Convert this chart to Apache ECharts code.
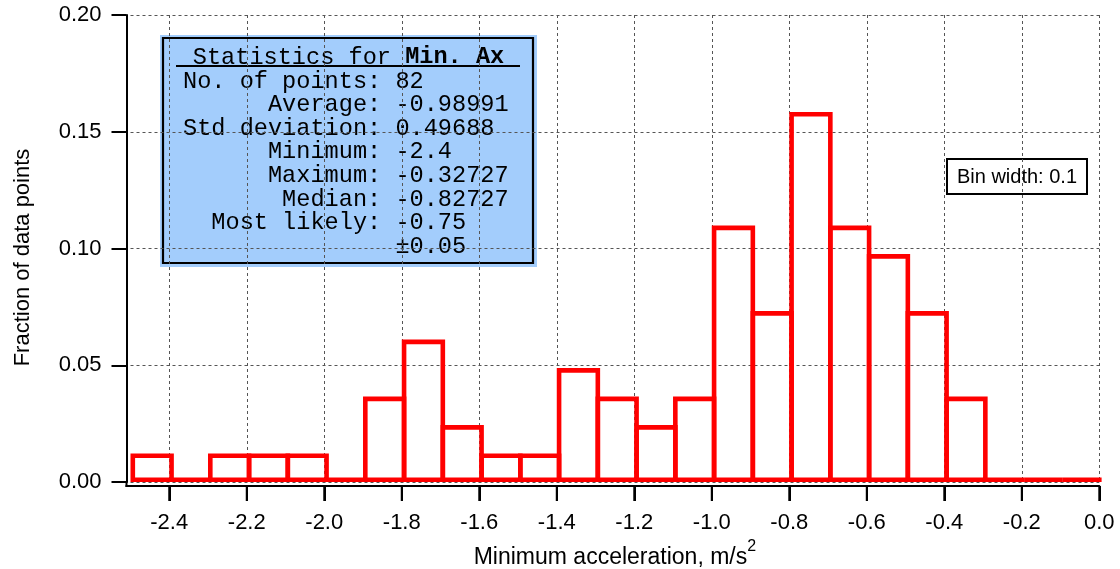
<!DOCTYPE html>
<html>
<head>
<meta charset="utf-8">
<script src="https://cdn.jsdelivr.net/npm/echarts@6/dist/echarts.min.js"></script>
<style>
html,body{margin:0;padding:0;background:#fff;}
#chart{width:1120px;height:569px;}
</style>
</head>
<body>
<div id="chart"></div>
<script>
// ---- data ----
const binWidth = 0.1;
const binLeft = [-2.5,-2.4,-2.3,-2.2,-2.1,-2.0,-1.9,-1.8,-1.7,-1.6,-1.5,-1.4,-1.3,-1.2,-1.1,-1.0,-0.9,-0.8,-0.7,-0.6,-0.5,-0.4,-0.3,-0.2,-0.1];
const fraction = [0.0122,0,0.0122,0.0122,0.0122,0,0.0366,0.0610,0.0244,0.0122,0.0122,0.0488,0.0366,0.0244,0.0366,0.1098,0.0732,0.1585,0.1098,0.0976,0.0732,0.0366,0,0,0];
const xTicks = [-2.4,-2.2,-2.0,-1.8,-1.6,-1.4,-1.2,-1.0,-0.8,-0.6,-0.4,-0.2,0.0];
const statsTitle = 'Statistics for ';
const statsTitleBold = 'Min. Ax';
const statLabels = ['No. of points:','Average:','Std deviation:','Minimum:','Maximum:','Median:','Most likely:',''];
const statValues = ['82','-0.98991','0.49688','-2.4','-0.32727','-0.82727','-0.75','\u00b10.05'];
const binNote = 'Bin width: 0.1';
const xTitle = 'Minimum acceleration, m/s';
const yTitle = 'Fraction of data points';

const SANS = '"Liberation Sans", Arial, Helvetica, sans-serif';
const MONO = '"Liberation Mono", "Courier New", monospace';
const LW = 4.6;
const AXIS_OFFSET = 4;
const TICK_LEN = 15;

const data = binLeft.map((b, i) => [b, +(b + binWidth).toFixed(2), fraction[i]]);
const tickData = xTicks.map(v => [v, 0]);
const statLines = statLabels.map((l, i) => (l.padStart(14, ' ') + ' ' + statValues[i]));

const chart = echarts.init(document.getElementById('chart'), null, {renderer: 'canvas'});
const gridLine = {show: true, lineStyle: {color: '#555', width: 1, type: [3, 3]}};

chart.setOption({
  animation: false,
  backgroundColor: '#fff',
  grid: {left: 130.5, right: 20.7, top: 15, bottom: 87, containLabel: false, outerBoundsMode: 'none'},
  xAxis: {
    type: 'value', min: -2.5, max: 0, offset: AXIS_OFFSET, position: 'bottom',
    axisLine: {show: true, onZero: false, lineStyle: {color: '#000', width: 2}},
    axisTick: {show: true, inside: false, length: TICK_LEN, customValues: xTicks, lineStyle: {color: '#000', width: 2}},
    axisLabel: {customValues: xTicks, margin: 26, fontSize: 22, fontFamily: SANS, color: '#000',
      formatter: v => Number(v).toFixed(1)},
    splitLine: gridLine,
    name: xTitle + '{sup|2}', nameLocation: 'middle', nameGap: 36,
    nameTextStyle: {fontSize: 23, fontFamily: SANS, color: '#000', verticalAlign: 'top',
      rich: {sup: {fontSize: 16, fontFamily: SANS, color: '#000', lineHeight: 16, padding: [0,0,14,0], verticalAlign: 'bottom'}}}
  },
  yAxis: {
    type: 'value', min: 0, max: 0.2, interval: 0.05, offset: AXIS_OFFSET, position: 'left',
    axisLine: {show: true, onZero: false, lineStyle: {color: '#000', width: 2}},
    axisTick: {show: true, inside: false, length: TICK_LEN, lineStyle: {color: '#000', width: 2}},
    axisLabel: {margin: 25, fontSize: 22, fontFamily: SANS, color: '#000', formatter: v => Number(v).toFixed(2)},
    splitLine: gridLine
  },
  series: [{
    type: 'custom',
    data: data,
    encode: {x: [0, 1], y: 2},
    clip: false,
    renderItem: function (params, api) {
      const x0 = api.value(0), x1 = api.value(1), v = api.value(2);
      const pTop = api.coord([x0, v]);
      const pBot = api.coord([x1, 0]);
      const h = LW / 2;
      let y = pTop[1] + h, hh = pBot[1] - pTop[1] - LW;
      if (hh < 0) { y = pBot[1] - h; hh = 0; }
      return {
        type: 'rect',
        shape: {x: pTop[0] + h, y: y, width: pBot[0] - pTop[0], height: hh},
        style: {fill: 'none', stroke: '#ff0000', lineWidth: LW}
      };
    }
  }, {
    type: 'custom',
    data: tickData,
    encode: {x: 0, y: 1},
    clip: false,
    silent: true,
    renderItem: function (params, api) {
      const c = api.coord([api.value(0), api.value(1)]);
      return {
        type: 'line',
        shape: {x1: c[0], y1: c[1] + AXIS_OFFSET, x2: c[0], y2: c[1] + AXIS_OFFSET + TICK_LEN},
        style: {stroke: '#000', lineWidth: 2}
      };
    }
  }],
  graphic: [
    {type: 'line', shape: {x1: 126.5, y1: 481, x2: 126.5, y2: 487}, style: {stroke: '#000', lineWidth: 2}, z: 10},
    {type: 'line', shape: {x1: 125.5, y1: 486, x2: 131, y2: 486}, style: {stroke: '#000', lineWidth: 2}, z: 10},
    {type: 'text', x: 23, y: 257.5, rotation: Math.PI / 2,
      style: {text: yTitle, fontSize: 22, fontFamily: SANS, fill: '#000', align: 'center', verticalAlign: 'middle'}},
    {type: 'group', z: 20, children: [
      {type: 'rect', shape: {x: 160, y: 35, width: 377, height: 232}, style: {fill: '#a3cdfc', stroke: null}},
      {type: 'rect', shape: {x: 163, y: 38, width: 370, height: 225}, style: {fill: 'none', stroke: '#000', lineWidth: 2.2}},
      {type: 'text', x: 348.5, y: 57.3, style: {
        text: statsTitle + '{b|' + statsTitleBold + '}',
        fontSize: 23.6, fontFamily: MONO, fill: '#000', align: 'center', verticalAlign: 'middle',
        rich: {b: {fontSize: 23.6, fontFamily: MONO, fontWeight: 'bold', fill: '#000'}}}},
      {type: 'line', shape: {x1: 176, y1: 66, x2: 520, y2: 66}, style: {stroke: '#000', lineWidth: 2}},
      {type: 'text', x: 183, y: 69.6, style: {
        text: statLines.join('\n'), fontSize: 23.6, lineHeight: 23.6, fontFamily: MONO, fill: '#000',
        align: 'left', verticalAlign: 'top'}}
    ]},
    {type: 'group', z: 20, children: [
      {type: 'rect', shape: {x: 947, y: 159, width: 140, height: 35}, style: {fill: '#fff', stroke: '#000', lineWidth: 2}},
      {type: 'text', x: 1017, y: 177, style: {text: binNote, fontSize: 20, fontFamily: SANS, fill: '#000', align: 'center', verticalAlign: 'middle'}}
    ]}
  ]
});
</script>
</body>
</html>
